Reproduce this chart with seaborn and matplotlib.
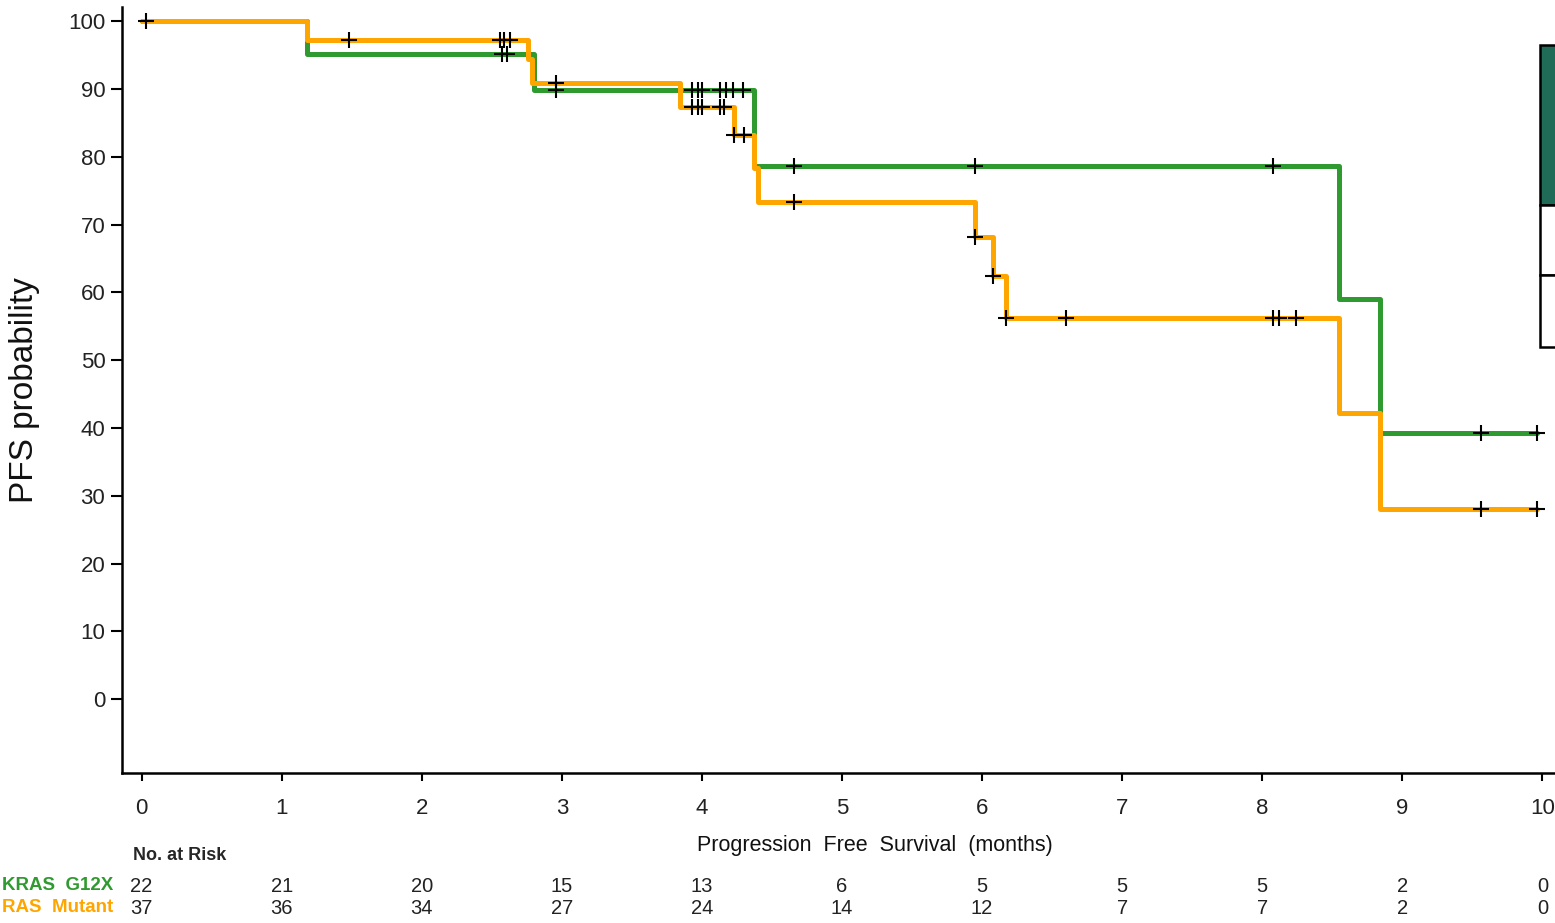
import numpy as np
import pandas as pd
import seaborn as sns
import matplotlib.pyplot as plt
from matplotlib.patches import Rectangle
from matplotlib.transforms import blended_transform_factory

# KM step curves (time in months, PFS %)
time_g12x = [0, 1.18, 2.80, 4.37, 8.55, 8.84, 9.96]
surv_g12x = [100, 95.2, 89.8, 78.6, 59.0, 39.3, 39.3]
time_ras = [0, 1.18, 2.76, 2.79, 3.84, 4.23, 4.37, 4.40, 5.95, 6.08, 6.17, 8.55, 8.84, 9.96]
surv_ras = [100, 97.3, 94.5, 90.9, 87.4, 83.2, 78.3, 73.3, 68.1, 62.4, 56.2, 42.2, 28.1, 28.1]

# censored times
cens_g12x = [2.57, 2.61, 2.96, 3.93, 3.97, 4.00, 4.13, 4.17, 4.22, 4.29, 4.66, 5.95, 8.08, 9.56, 9.96]
cens_ras = [0.03, 1.48, 2.555, 2.59, 2.63, 2.955, 3.93, 3.97, 4.00, 4.13, 4.16, 4.23, 4.30,
            4.66, 5.95, 6.08, 6.17, 6.60, 8.08, 8.12, 8.24, 9.56, 9.96]

# number at risk
risk_times = [0, 1, 2, 3, 4, 5, 6, 7, 8, 9, 10]
risk_g12x = [22, 21, 20, 15, 13, 6, 5, 5, 5, 2, 0]
risk_ras = [37, 36, 34, 27, 24, 14, 12, 7, 7, 2, 0]

groups = ['KRAS  G12X', 'RAS  Mutant']
colores = ['#2f9a30', '#ffa500']

sns.set_style('ticks')
plt.rcParams['font.family'] = ['Liberation Sans', 'DejaVu Sans']
narrow = ['Liberation Sans Narrow', 'Liberation Sans', 'DejaVu Sans']


def surv_at(times, surv, t):
    idx = np.searchsorted(times, t, side='right') - 1
    return np.array(surv)[idx]


curvas = pd.concat([
    pd.DataFrame({'time': time_g12x, 'surv': surv_g12x, 'group': groups[0]}),
    pd.DataFrame({'time': time_ras, 'surv': surv_ras, 'group': groups[1]}),
])
censuras = pd.concat([
    pd.DataFrame({'time': cens_g12x, 'surv': surv_at(time_g12x, surv_g12x, cens_g12x), 'group': groups[0]}),
    pd.DataFrame({'time': cens_ras, 'surv': surv_at(time_ras, surv_ras, cens_ras), 'group': groups[1]}),
])

fig = plt.figure(figsize=(15.55, 9.23), dpi=100)
ax = fig.add_axes([122 / 1555, 150 / 923, 1 - 122 / 1555, (773 - 7) / 923])

sns.lineplot(data=curvas, x='time', y='surv', hue='group', palette=colores,
             drawstyle='steps-post', estimator=None, sort=False, linewidth=3.6,
             legend=False, ax=ax)
sns.scatterplot(data=censuras, x='time', y='surv', marker='+', color='black',
                s=120, linewidth=1.5, legend=False, ax=ax, zorder=5)

ax.set_xlim(-0.14, 10.09)
ax.set_ylim(-10.9, 102.1)
ax.set_xticks(risk_times)
ax.set_yticks(range(0, 101, 10))
ax.tick_params(axis='both', labelsize=16, width=1.5, color='black', labelcolor='#222222')
ax.tick_params(axis='y', length=8, pad=4)
ax.tick_params(axis='x', length=6, pad=12)
ax.set_xlabel('')
ax.set_ylabel('')
for s in ['top', 'right']:
    ax.spines[s].set_visible(False)
for s in ['left', 'bottom']:
    ax.spines[s].set_linewidth(1.8)
    ax.spines[s].set_color('black')

fig.text(25 / 1555, 1 - 390 / 923, 'PFS probability', rotation=90, fontsize=24,
         ha='center', va='center', color='#111111')
fig.text(875 / 1555, 1 - 846 / 923, 'Progression  Free  Survival  (months)', fontsize=15.5,
         ha='center', va='center', family=narrow, color='#111111')

# number at risk table
trans = blended_transform_factory(ax.transData, fig.transFigure)
fig.text(133 / 1555, 1 - 856 / 923, 'No. at Risk', fontsize=13, fontweight='bold',
         ha='left', va='center', family=narrow)
for fila, (nombre, valores, col) in enumerate(zip(groups, [risk_g12x, risk_ras], colores)):
    yy = 1 - (886 + 22 * fila) / 923
    fig.text(2 / 1555, yy, nombre, fontsize=13.5, fontweight='bold', color=col,
             ha='left', va='center', family=narrow)
    for t, v in zip(risk_times, valores):
        ax.text(t, yy, str(v), transform=trans, fontsize=14.5, ha='center', va='center',
                family=narrow, color='#222222', clip_on=False)

# partial legend box at the right edge
for y0, y1, fc in [(45, 205, '#1f6b58'), (205, 275, 'white'), (275, 347, 'white')]:
    fig.patches.append(Rectangle((1540 / 1555, 1 - y1 / 923), 30 / 1555, (y1 - y0) / 923,
                                 transform=fig.transFigure, facecolor=fc,
                                 edgecolor='black', linewidth=1.8))

fig.savefig('out.png', dpi=100)
